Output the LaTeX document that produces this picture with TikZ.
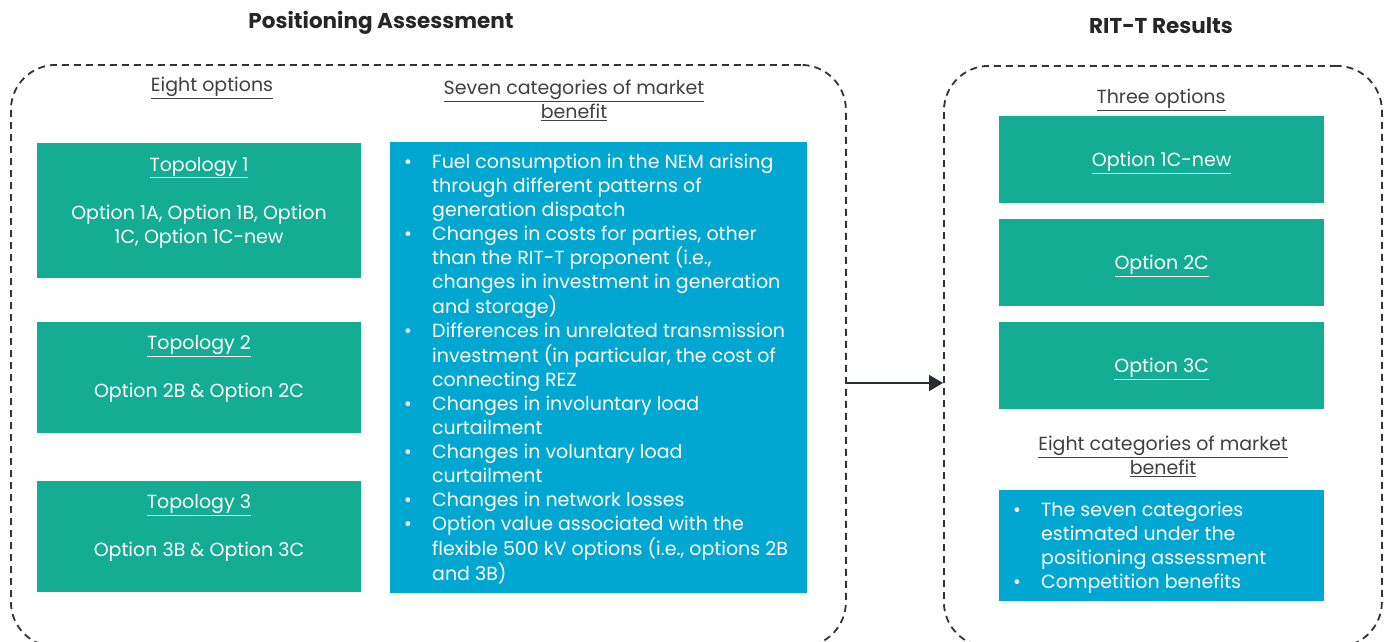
\documentclass[tikz,border=0pt]{standalone}
\usepackage{fontspec}
\setmainfont{Poppins}
\usetikzlibrary{arrows.meta}
\definecolor{grn}{HTML}{14AC92}
\definecolor{blu}{HTML}{02A7D1}
\definecolor{lbl}{HTML}{404040}
\definecolor{ttl}{HTML}{262626}
\definecolor{dsh}{HTML}{333333}
\definecolor{arr}{HTML}{262D33}
\newcommand{\ulx}[1]{\underline{#1}}
\newcommand{\bul}{\textbullet}
\begin{document}
\begin{tikzpicture}[x=1pt,y=-1pt,
  frame/.style={draw=dsh, line width=1.8pt, dash pattern=on 7pt off 5pt, rounded corners=45pt, rectangle, inner sep=0pt, anchor=north west},
  gbox/.style={fill=grn, rectangle, inner sep=0pt, anchor=north west},
  bbox/.style={fill=blu, rectangle, inner sep=0pt, anchor=north west},
  ttlstyle/.style={font=\fontsize{21.5}{26}\selectfont\bfseries, text=ttl},
  lab/.style={font=\fontsize{19}{24}\selectfont, text=lbl, align=center},
  wtxt/.style={font=\fontsize{19}{24}\selectfont, text=white, align=center},
  ltxt/.style={font=\fontsize{19}{24}\selectfont, text=white, anchor=north west, inner sep=0pt},
]
\useasboundingbox (0,0) rectangle (1387,641);
\begin{scope}
\clip (0,0) rectangle (1387,641);
\node[frame, minimum width=835pt, minimum height=582pt] (left) at (10,64) {};
\node[frame, minimum width=438pt, minimum height=581pt] (right) at (943,65) {};
\end{scope}
\coordinate (arrowy) at (0,383);
\draw[arr, line width=2pt, -{Triangle[length=14pt,width=16pt]}] (left.east |- arrowy) -- (right.west |- arrowy);

% titles
\node[ttlstyle] (t-pa) at (381,23) {Positioning Assessment};
\node[ttlstyle] (t-rr) at (1161,26) {RIT-T Results};

% left labels
\node[lab] (l-eight) at (212,88) {\ulx{Eight options}};
\node[lab] (l-seven) at (574,100) {\ulx{Seven categories of market}\\\ulx{benefit}};

% topology boxes
\node[gbox, minimum width=324pt, minimum height=135pt] (topo1) at (37,143) {};
\node[gbox, minimum width=324pt, minimum height=111pt] (topo2) at (37,322) {};
\node[gbox, minimum width=324pt, minimum height=111pt] (topo3) at (37,481) {};
\node[wtxt] (topo1t) at (199,202.5) {\ulx{Topology 1}\\[24pt]Option 1A, Option 1B, Option\\1C, Option 1C-new};
\node[wtxt] (topo2t) at (199,369) {\ulx{Topology 2}\\[24pt]Option 2B \& Option 2C};
\node[wtxt] (topo3t) at (199,528) {\ulx{Topology 3}\\[24pt]Option 3B \& Option 3C};

% market benefit box
\node[bbox, minimum width=417pt, minimum height=451pt] (mb) at (390,142) {};
\node[ltxt] (mbt) at (404,151) {\begin{tabular}{@{}p{28pt}@{}l@{}}
\bul & Fuel consumption in the NEM arising\\
 & through different patterns of\\
 & generation dispatch\\
\bul & Changes in costs for parties, other\\
 & than the RIT-T proponent (i.e.,\\
 & changes in investment in generation\\
 & and storage)\\
\bul & Differences in unrelated transmission\\
 & investment (in particular, the cost of\\
 & connecting REZ\\
\bul & Changes in involuntary load\\
 & curtailment\\
\bul & Changes in voluntary load\\
 & curtailment\\
\bul & Changes in network losses\\
\bul & Option value associated with the\\
 & flexible 500 kV options (i.e., options 2B\\
 & and 3B)
\end{tabular}};

% right side
\node[lab] (r-three) at (1161,100) {\ulx{Three options}};
\node[gbox, minimum width=325pt, minimum height=87pt] (o1) at (999,116) {};
\node[gbox, minimum width=325pt, minimum height=87pt] (o2) at (999,219) {};
\node[gbox, minimum width=325pt, minimum height=87pt] (o3) at (999,322) {};
\node[wtxt, yshift=-3pt] (o1t) at (o1.center) {\ulx{Option 1C-new}};
\node[wtxt, yshift=-3pt] (o2t) at (o2.center) {\ulx{Option 2C}};
\node[wtxt, yshift=-3pt] (o3t) at (o3.center) {\ulx{Option 3C}};
\node[lab] (r-eight) at (1163,456) {\ulx{Eight categories of market}\\\ulx{benefit}};
\node[bbox, minimum width=325pt, minimum height=111pt] (rb) at (999,490) {};
\node[ltxt] (rbt) at (1013,499) {\begin{tabular}{@{}p{28pt}@{}l@{}}
\bul & The seven categories\\
 & estimated under the\\
 & positioning assessment\\
\bul & Competition benefits
\end{tabular}};
\end{tikzpicture}
\end{document}
